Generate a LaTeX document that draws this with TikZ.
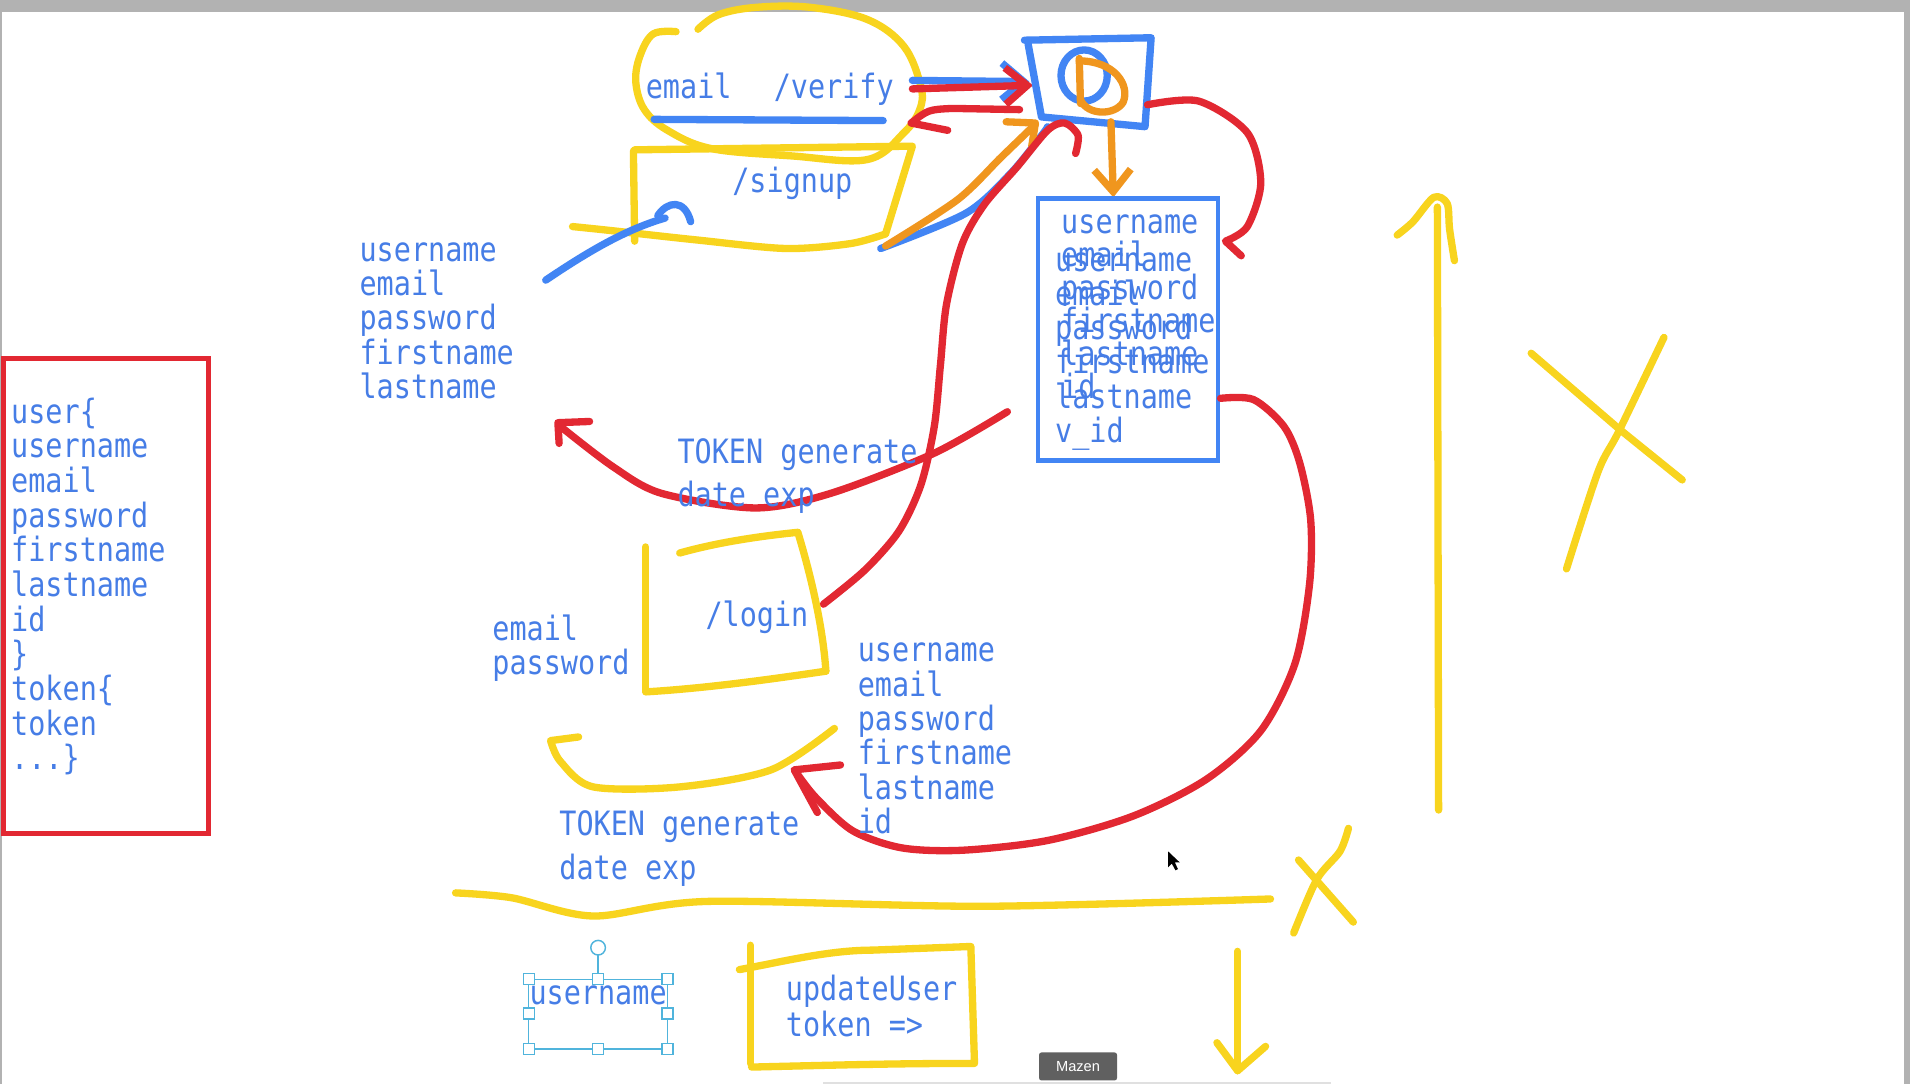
\documentclass[tikz,border=0pt]{standalone}
\usepackage{fontspec}
\setmonofont[FakeStretch=0.85]{DejaVu Sans Mono}
\setsansfont{Liberation Sans}
\usetikzlibrary{arrows.meta}
\definecolor{InkBlue}{RGB}{66,133,244}
\definecolor{TextBlue}{RGB}{70,125,230}
\definecolor{InkRed}{RGB}{226,40,50}
\definecolor{InkYellow}{RGB}{248,212,30}
\definecolor{InkOrange}{RGB}{240,150,30}
\definecolor{FrameGray}{RGB}{178,178,178}
\definecolor{SelCyan}{RGB}{80,180,220}
\definecolor{TagGray}{RGB}{96,96,96}
\newcommand\codefont{\ttfamily\fontsize{27.5}{28.5}\selectfont}
\tikzset{
  pen/.style={line width=6pt, line cap=round, line join=round},
  code/.style={font=\codefont, text=TextBlue, inner sep=0pt, anchor=base west},
  handle/.style={draw=SelCyan, fill=white, line width=1pt, minimum size=9pt, inner sep=0pt}
}

\begin{document}
\begin{tikzpicture}[x=1pt, y=-1pt, >={Straight Barb[length=18pt, width=30pt]}]
          \useasboundingbox (0,0) rectangle (1568,890);
          \fill[white] (0,0) rectangle (1568,890);
          \fill[FrameGray] (0,0) rectangle (1568,10);
          \fill[FrameGray] (1563,0) rectangle (1568,890);
          \fill[FrameGray] (0,0) rectangle (2,890);
          \draw[FrameGray!40, line width=2pt] (676,889) -- (1093,889);
          % verify and signup
          \draw[pen, InkYellow] plot[smooth, tension=0.6] coordinates {(555,26) (536,28) (525,47) (522,68) (529,90) (548,107) (584,122) (650,128) (712,131) (742,109) (755,90) (756,71) (742,38) (712,16) (665,6) (621,6) (590,12) (573,24)};
          \draw[pen, InkYellow] (521,123) -- (749,120) -- (727,192);
          \draw[pen, InkYellow] plot[smooth] coordinates {(727,192) (698,200) (645,204) (572,197) (499,189) (470,186)};
          \draw[pen, InkYellow] (520,124) -- (521,198);
          \node[code] (email) at (530,80.7) {email};
          \node[code] (verify) at (635,80.7) {/verify};
          \node[code] (signup) at (601,158) {/signup};
          \draw[pen, InkBlue] (537,98) -- (725,99);
          \draw[pen, InkBlue] (448,230) .. controls (485,205) and (515,188) .. (546,179);
          \draw[pen, InkBlue] (540,177) .. controls (548,165) and (562,163) .. (567,182);
          \draw[pen, InkBlue, ->] (749,66) -- (845,67);
          \draw[pen, InkRed, ->] (749,73) -- (848,70);
          \draw[pen, InkRed] (837,90) -- (782,89) .. controls (762,90) .. (748,101) -- (778,107);
          % the D box
          \draw[pen, InkBlue] (841,33) -- (945,31) -- (940,104) -- (855,96) -- (844,36);
          \draw[pen, InkBlue] (890,62) ellipse (19 and 21);
          \draw[pen, InkOrange] (886,48) -- (887,85);
          \draw[pen, InkOrange] (886,50) .. controls (915,50) and (928,70) .. (922,84) .. controls (915,95) and (893,95) .. (887,82);
          \draw[pen, InkOrange, ->] (912,100) -- (914,162);
          \draw[pen, InkBlue] plot[smooth] coordinates {(723,204) (793,175) (830,142) (856,110) (860,104)};
          \draw[pen, InkOrange] plot[smooth] coordinates {(727,202) (786,164) (822,129) (850,102)};
          \draw[pen, InkOrange] (826,100) -- (850,101) -- (847,120);
          \draw[pen, InkRed] plot[smooth] coordinates {(676,496) (710,468) (738,436) (756,398) (767,350) (772,300) (777,250) (790,200) (808,168) (835,137) (860,107) (874,101) (885,111) (883,126)};
          \draw[pen, InkRed] plot[smooth] coordinates {(942,86) (984,83) (1024,109) (1035,150) (1024,186) (1006,198)} -- (1019,210);
          % stored user
          \draw[line width=3.5pt, InkBlue] (852,163) rectangle (1000,378);
          \foreach \w [count=\i from 0] in {username,email,password,firstname,lastname,id}
            \node[code] (stA\i) at (871,191.5+27.2*\i) {\w};
          \foreach \w [count=\i from 0] in {username,email,password,firstname,lastname,v\_id}
            \node[code] (stB\i) at (866,223+28*\i) {\w};
          \draw[pen, InkRed] plot[smooth] coordinates {(1002,327) (1029,328) (1054,350) (1067,380) (1076,427) (1075,480) (1063,545) (1035,600) (990,640) (930,670) (860,690) (790,698) (740,696) (700,682) (670,655) (655,636)};
          \draw[pen, InkRed] (690,628) -- (652,632) -- (671,667);
          % signup data and token
          \foreach \w [count=\i from 0] in {username,email,password,firstname,lastname}
            \node[code] (sg\i) at (295,214.5+28.2*\i) {\w};
          \draw[pen, InkRed] plot[smooth] coordinates {(827,338) (767,372) (682,405) (620,417) (543,405) (503,383) (460,350)};
          \draw[pen, InkRed] (484,346) -- (458,347) -- (459,364);
          \node[code] (tokA) at (556,380.5) {TOKEN generate};
          \node[code] (expA) at (556,416) {date exp};
          % model box
          \draw[line width=4pt, InkRed] (3,294) rectangle (171,684);
          \foreach \w [count=\i from 0] in {user\{,username,email,password,firstname,lastname,id,\},token\{,token}
            \node[code] (md\i) at (9,347.5+28.45*\i) {\w};
          \node[code] (md10) at (9,632) {...\}};
          % login
          \draw[pen, InkYellow] (530,449) -- (530,567);
          \draw[pen, InkYellow] (558,454) .. controls (590,445) and (625,440) .. (655,437) .. controls (668,480) and (676,520) .. (678,551);
          \draw[pen, InkYellow] (530,568) .. controls (580,565) and (630,558) .. (678,551);
          \node[code] (login) at (579,514.5) {/login};
          \node[code] (lgmail) at (404,525.5) {email};
          \node[code] (lgpass) at (404,554) {password};
          \foreach \w [count=\i from 0] in {username,email,password,firstname,lastname,id}
            \node[code] (lg\i) at (704,543.2+28.2*\i) {\w};
          \draw[pen, InkYellow] plot[smooth] coordinates {(685,598) (633,632) (558,646) (487,646) (460,625) (452,608)} -- (475,605);
          \node[code] (tokB) at (459,685.5) {TOKEN generate};
          \node[code] (expB) at (459,722.4) {date exp};
          % lines and crosses
          \draw[pen, InkYellow] plot[smooth] coordinates {(374,733) (420,737) (487,752) (581,740) (808,744) (1043,738)};
          \draw[pen, InkYellow] (1066,706) -- (1111,757);
          \draw[pen, InkYellow] plot[smooth] coordinates {(1107,680) (1100,699) (1081,722) (1062,766)};
          \draw[pen, InkYellow] (1016,781) -- (1016,879);
          \draw[pen, InkYellow] (999,856) -- (1016,879) -- (1039,859);
          \draw[pen, InkYellow] (1181,665) -- (1180,170);
          \draw[pen, InkYellow] plot[smooth] coordinates {(1147,193) (1160,182) (1177,162) (1188,167) (1190,188) (1194,214)};
          \draw[pen, InkYellow] (1257,290) -- (1329,352) -- (1381,394);
          \draw[pen, InkYellow] plot[smooth] coordinates {(1366,277) (1329,354) (1312,387) (1286,467)};
          % bottom row
          \draw[SelCyan, line width=1.2pt] (434,804) rectangle (548,861);
          \draw[SelCyan, line width=1.2pt] (491,784) -- (491,804);
          \draw[SelCyan, line width=1.2pt, fill=white] (491,778) circle (6);
          \node[code, anchor=base] (uname) at (491,825) {username};
          \foreach \p [count=\k] in {(434,804),(491,804),(548,804),(434,832),(548,832),(434,861),(491,861),(548,861)}
            \node[handle] (grip\k) at \p {};
          \draw[pen, InkYellow] (616,776) -- (616,873);
          \draw[pen, InkYellow] (607,796) .. controls (640,790) and (680,780) .. (716,780) -- (797,777) -- (800,873) .. controls (740,873) and (700,874) .. (617,876);
          \node[code] (upd) at (645,821) {updateUser};
          \node[code] (updtok) at (645,851) {token =>};
          \node[fill=TagGray, rounded corners=2pt, text=white, font=\sffamily\fontsize{12}{12}\selectfont, minimum width=64pt, minimum height=23pt, inner sep=0pt] (mazen) at (885,875.5) {Mazen};
          \fill[black] (959,699) -- (959,712) -- (962,709) -- (965,714.5) -- (967,713.5) -- (964.5,708) -- (968.5,708) -- cycle;
        \end{tikzpicture}
\end{document}
